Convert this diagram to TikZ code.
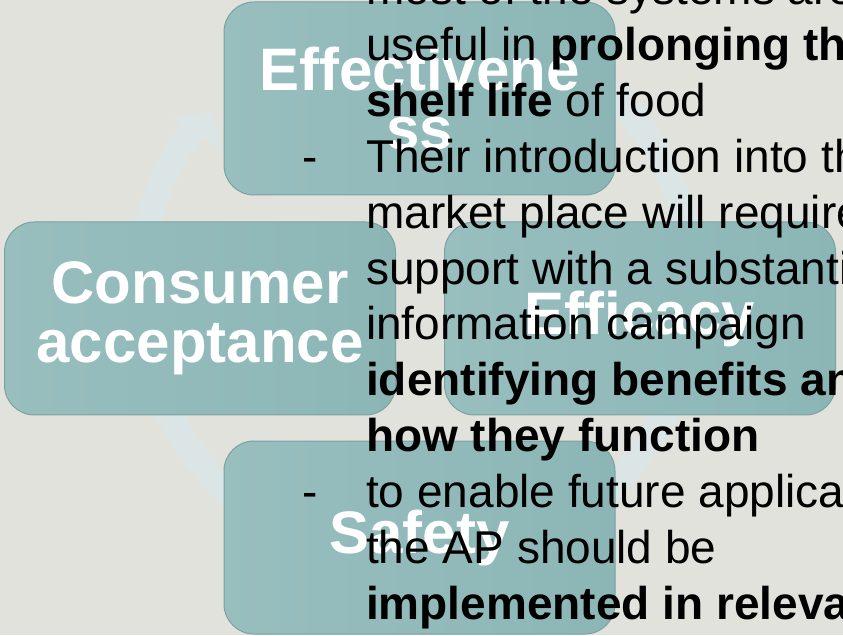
\documentclass[tikz,border=0pt]{standalone}
\usepackage{fontspec}
\setmainfont{Liberation Sans}
\definecolor{slidebg}{RGB}{226,226,220}
\definecolor{ringcol}{RGB}{219,229,230}
\definecolor{tealL}{RGB}{152,190,190}
\definecolor{tealR}{RGB}{140,182,182}
\definecolor{tealrim}{RGB}{122,162,162}
\tikzset{
  stage/.style={rounded corners=30pt, minimum width=391pt, minimum height=193pt,
    left color=tealL, right color=tealR, draw=tealrim, line width=1pt,
    text=white, font=\bfseries\fontsize{60}{59}\selectfont, align=center, inner sep=0pt},
  body/.style={anchor=base west, inner sep=0pt, font=\fontsize{46}{56}\selectfont},
  ring/.style={ringcol, line width=26pt}
}
\begin{document}
\begin{tikzpicture}[x=1pt, y=1pt]
\useasboundingbox (0,0) rectangle (843,635);
\clip (0,0) rectangle (843,635);
\fill[slidebg] (0,0) rectangle (843,635);

% cycle ring behind the boxes
\coordinate (c) at (417,345);
\draw[ring] (c) ++(110:277) arc[start angle=110, end angle=-216, radius=277];
\fill[ringcol, shift={(c)}] (144.5:301) -- (139:271) -- (144.5:240) -- cycle;

\node[stage] (eff) at (419.5,536.5) {Effectivene\\ss};
\node[stage] (cons) at (200,316.5) {Consumer\\acceptance};
\node[stage] (effic) at (640,316.5) {Efficacy};
\node[stage] (safe) at (419.5,97.5) {Safety};

% slide text on top
\foreach \txt [count=\i] in {
  {most of the systems are},
  {useful in \textbf{prolonging the}},
  {\textbf{shelf life} of food},
  {Their introduction into the},
  {market place will require},
  {support with a substantial},
  {information campaign},
  {\textbf{identifying benefits and}},
  {\textbf{how they function}},
  {to enable future applications},
  {the AP should be},
  {\textbf{implemented in relevant}}}
  \node[body] (line\i) at (366,{635-340-(\i-7)*55.9}) {\txt};
\node[body] (dash4) at (302,462.7) {-};
\node[body] (dash10) at (302,127.3) {-};
\end{tikzpicture}
\end{document}
